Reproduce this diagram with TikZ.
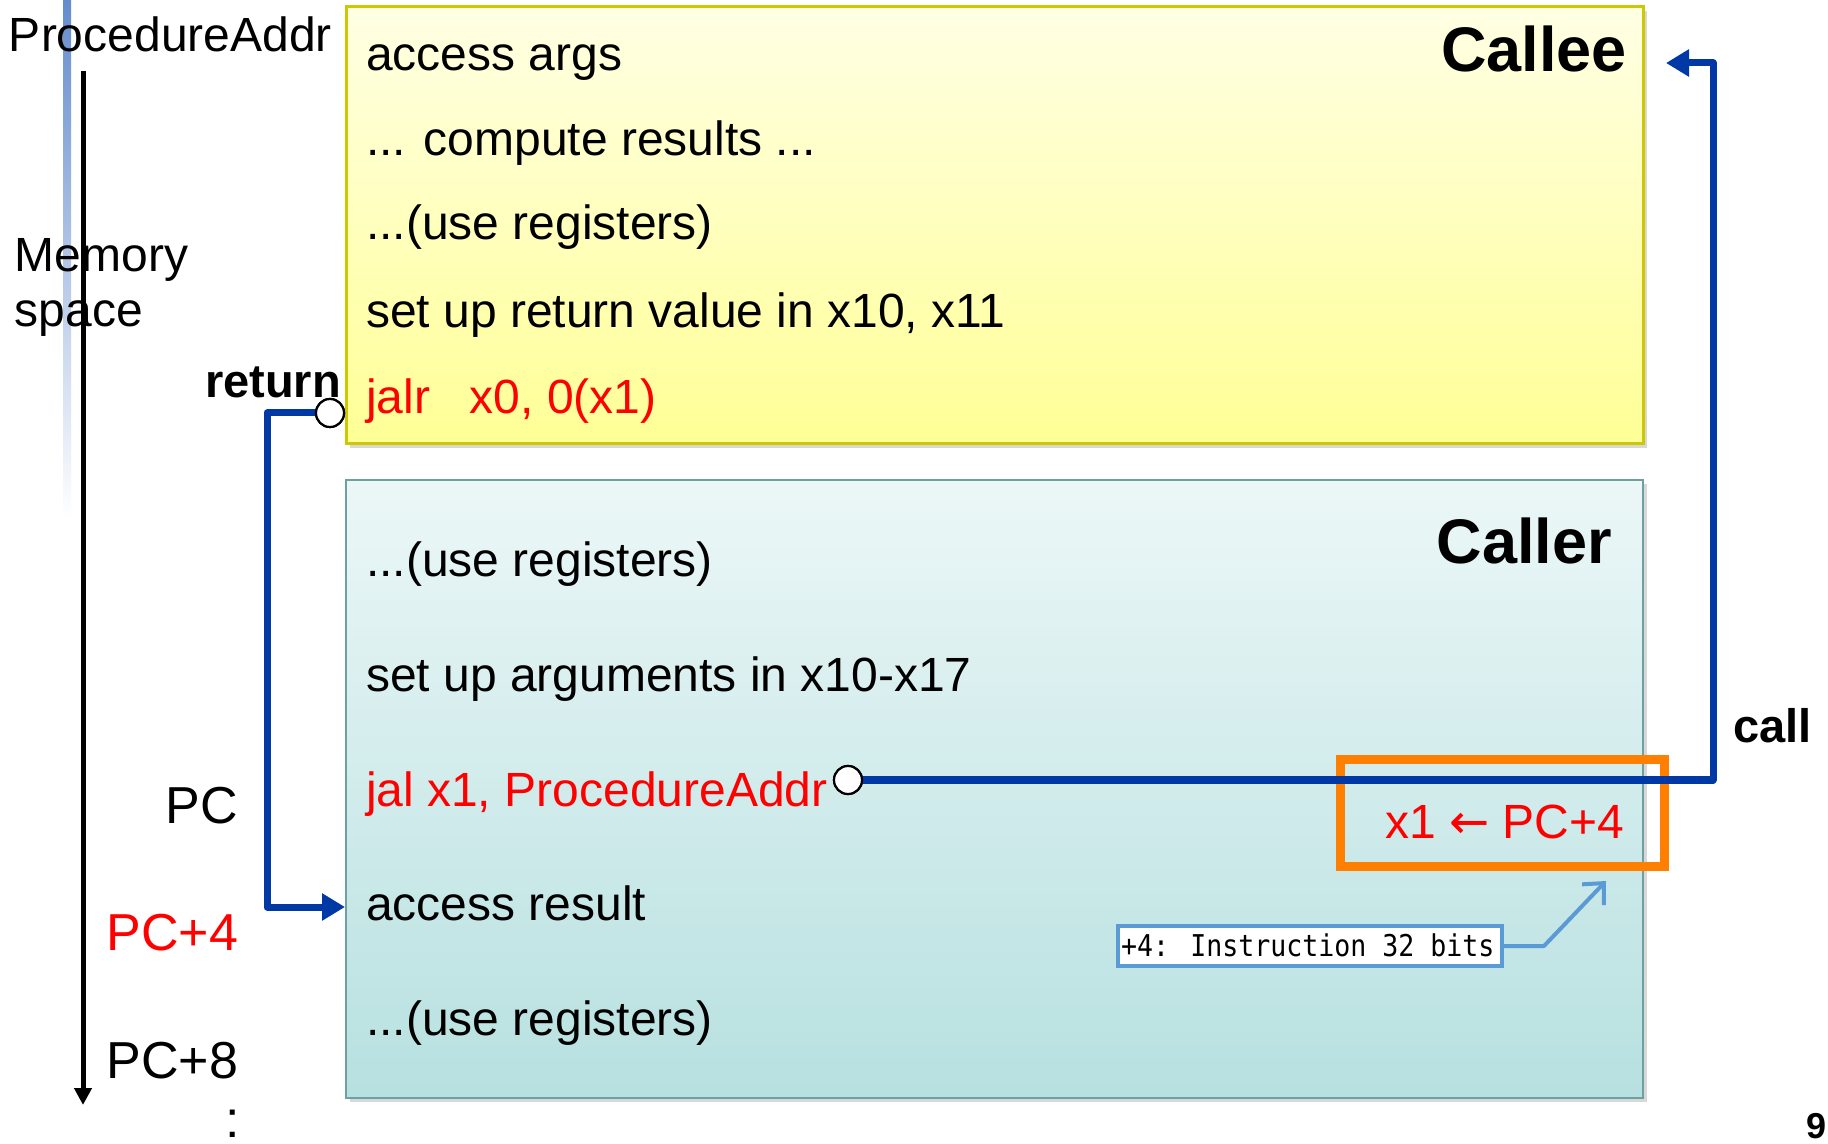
\documentclass[tikz,border=0pt]{standalone}
\usepackage{fontspec}
\usepackage{graphicx}
\setmainfont{Liberation Sans}
\newfontfamily\monofont{DejaVu Sans Mono}
\newfontfamily\arrowfont{DejaVu Sans}
\usetikzlibrary{arrows.meta,fit,shadows}
\definecolor{connblue}{RGB}{0,57,166}
\definecolor{infoblue}{RGB}{91,155,213}
\definecolor{codered}{RGB}{255,0,0}
\definecolor{xorange}{RGB}{255,128,0}
\definecolor{calleeline}{RGB}{205,200,0}
\definecolor{callerline}{RGB}{110,160,160}
\definecolor{barblue}{RGB}{100,140,205}
\definecolor{calleetop}{RGB}{255,255,228}
\definecolor{calleebot}{RGB}{255,255,150}
\definecolor{callertop}{RGB}{236,247,247}
\definecolor{callerbot}{RGB}{183,224,224}
\begin{document}
\begin{tikzpicture}[x=0.5pt,y=-0.5pt,
  txt/.style={inner sep=0pt, outer sep=0pt, font=\fontsize{24}{28}\selectfont},
  bigtxt/.style={inner sep=0pt, outer sep=0pt, font=\fontsize{26}{31}\selectfont},
  boldtxt/.style={inner sep=0pt, outer sep=0pt, font=\fontsize{23.5}{28}\selectfont\bfseries},
  titletxt/.style={inner sep=0pt, outer sep=0pt, font=\fontsize{31.5}{36}\selectfont\bfseries},
  calleebox/.style={inner sep=0pt, outer sep=0pt, draw=calleeline, line width=1.5pt,
     top color=calleetop, bottom color=calleebot,
     drop shadow={shadow xshift=2pt, shadow yshift=-2pt, opacity=0.25, fill=black!60}},
  callerbox/.style={inner sep=0pt, outer sep=0pt, draw=callerline, line width=1.2pt,
     top color=callertop, bottom color=callerbot,
     drop shadow={shadow xshift=2pt, shadow yshift=-2pt, opacity=0.25, fill=black!60}},
  circ/.style={circle, draw=black, line width=1.1pt, fill=white, minimum size=14pt, inner sep=0pt, outer sep=0pt},
  conn/.style={draw=connblue, line width=3.5pt, line join=round, -{Triangle[length=11.5pt,width=13pt]}},
  retconn/.style={draw=connblue, line width=3.5pt, line join=round, -{Triangle[length=11.5pt,width=13pt]}},
  memarrow/.style={draw=black, line width=2.5pt, -{Triangle[length=8.5pt,width=8.5pt]}},
  infoconn/.style={draw=infoblue, line width=2pt, line join=round, -{Straight Barb[length=8pt,width=15pt]}}
]
\useasboundingbox (0,0) rectangle (1828,1144);
\fill[white] (0,0) rectangle (1828,1144);

% faded blue bar
\shade[top color=barblue, bottom color=white] (63,0) rectangle (71,520);

% boxes
\node[calleebox, fit={(346,7) (1643,444)}] (callee) {};
\node[callerbox, fit={(346,480) (1643,1098)}] (caller) {};

% callee text
\node[titletxt, anchor=base east] (calleetitle) at (1627,72) {Callee};
\node[txt, anchor=base west] (ce1) at (366,71) {access args};
\node[txt, anchor=base west] (ce2) at (366,156) {... compute results ...};
\node[txt, anchor=base west] (ce3) at (366,240) {...(use registers)};
\node[txt, anchor=base west] (ce4) at (366,328) {set up return value in x10, x11};
\node[txt, anchor=base west, text=codered] (ce5) at (366,414) {jalr\hspace{0.83em}x0, 0(x1)};

% caller text
\node[titletxt, anchor=base east] (callertitle) at (1612,564) {Caller};
\node[txt, anchor=base west] (cr1) at (366,577) {...(use registers)};
\node[txt, anchor=base west] (cr2) at (366,692) {set up arguments in x10-x17};
\node[txt, anchor=base west, text=codered] (cr3) at (366,806) {jal x1, ProcedureAddr};
\node[txt, anchor=base west] (cr4) at (366,920) {access result};
\node[txt, anchor=base west] (cr5) at (366,1035) {...(use registers)};

% left labels
\node[txt, anchor=base west] (procaddr) at (9,52) {ProcedureAddr};
\node[txt, anchor=base west] (mem1) at (15,272) {Memory};
\node[txt, anchor=base west] (mem2) at (15,327) {space};
\node[bigtxt, anchor=base east] (pc) at (238,823) {PC};
\node[bigtxt, anchor=base east, text=codered] (pc4) at (238,950) {PC+4};
\node[bigtxt, anchor=base east] (pc8) at (238,1078) {PC+8};
\node[bigtxt, anchor=base] (dots) at (233,1137) {:};

% memory arrow
\coordinate (memtop) at (83,71);
\coordinate (membot) at (83,1105);
\draw[memarrow] (memtop) -- (membot);

% labels
\node[boldtxt, anchor=base west] (retlabel) at (205,398) {return};
\node[boldtxt, anchor=base west] (calllabel) at (1733,742) {call};
\node[inner sep=0pt, outer sep=0pt, font=\fontsize{18}{22}\selectfont\bfseries, anchor=base east] (pagenum) at (1827,1138) {9};

% orange box
\node[draw=xorange, line width=4.5pt, inner sep=0pt, outer sep=0pt, fit={(1340.5,759.5) (1664.5,866.5)}] (x1box) {};
\node[inner sep=0pt, outer sep=0pt, font=\fontsize{24}{29}\selectfont, text=codered, anchor=base east] (x1txt) at (1624,838) {x1 {\arrowfont ←} PC+4};

% circles and connectors
\node[circ] (c1) at (848,780) {};
\node[circ] (c2) at (330,413) {};
\coordinate (callR) at (1713,63);
\coordinate (calltip) at (1666,63);
\draw[conn] (c1.east) -| (callR) -- (calltip);
\coordinate (retL) at (267,413);
\coordinate (rettip) at (345,907);
\draw[retconn] (c2.west) -- (retL) |- (rettip);
\node[circ] at (c1) {};
\node[circ] at (c2) {};

% info box
\node[draw=infoblue, line width=2pt, fill=white, inner sep=0pt, outer sep=0pt, fit={(1118,926) (1502,966)}] (info) {};
\node[inner sep=0pt, outer sep=0pt, anchor=base west, font=\monofont\fontsize{15}{18}\selectfont] (infotxt) at (1121,956) {\scalebox{0.886}[1]{+4: Instruction 32 bits}};
\coordinate (infotip) at (1606,881);
\draw[infoconn] (info.east) -- ++(42,0) -- (infotip);
\end{tikzpicture}
\end{document}
